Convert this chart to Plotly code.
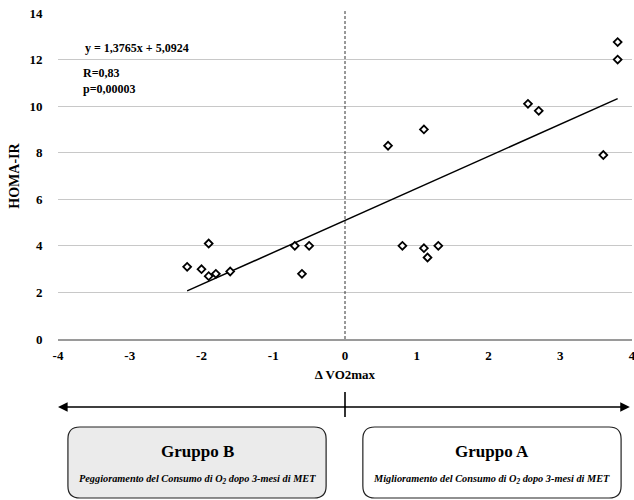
import plotly.graph_objects as go

# ---- data ----
delta_vo2 = [-2.2, -2.0, -1.9, -1.9, -1.8, -1.6, -0.7, -0.6, -0.5,
             0.6, 0.8, 1.1, 1.1, 1.15, 1.3, 2.55, 2.7, 3.6, 3.8, 3.8]
homa_ir = [3.1, 3.0, 4.1, 2.7, 2.8, 2.9, 4.0, 2.8, 4.0,
           8.3, 4.0, 9.0, 3.9, 3.5, 4.0, 10.1, 9.8, 7.9, 12.0, 12.75]
slope = 1.3765
intercept = 5.0924
x_ticks = [-4, -3, -2, -1, 0, 1, 2, 3, 4]
y_ticks = [0, 2, 4, 6, 8, 10, 12, 14]
eq_text = "y = 1,3765x + 5,0924"
stats_text = "R=0,83<br>p=0,00003"

FONT = "Liberation Serif, Times New Roman, serif"

trend_x = [min(delta_vo2), max(delta_vo2)]
trend_y = [slope * v + intercept for v in trend_x]

fig = go.Figure()
fig.add_trace(go.Scatter(x=trend_x, y=trend_y, mode="lines",
                         line=dict(color="black", width=1.5),
                         hoverinfo="skip", showlegend=False))
fig.add_trace(go.Scatter(x=delta_vo2, y=homa_ir, mode="markers",
                         marker=dict(symbol="diamond", size=6, color="white",
                                     line=dict(color="black", width=1.8)),
                         showlegend=False))

fig.update_layout(
    width=636, height=500,
    margin=dict(l=58, r=0, t=13, b=161),
    paper_bgcolor="white", plot_bgcolor="white",
    font=dict(family=FONT, color="black"),
    xaxis=dict(range=[-4, 4], tickvals=x_ticks, ticktext=[str(v) for v in x_ticks],
               showgrid=False, zeroline=False, showline=True,
               linecolor="#9a9a9a", linewidth=1.5,
               ticks="outside", ticklen=4, tickcolor="rgba(0,0,0,0)",
               ticklabeloverflow="allow",
               tickfont=dict(family=FONT, size=13, color="black", weight="bold"),
               title=dict(text="Δ VO2max", standoff=8,
                          font=dict(family=FONT, size=13, color="black", weight="bold"))),
    yaxis=dict(range=[0, 14], tickvals=y_ticks,
               showgrid=True, gridcolor="#c8c8c8", gridwidth=1,
               zeroline=False, showline=False,
               ticks="outside", ticklen=12, tickcolor="rgba(0,0,0,0)",
               ticklabeloverflow="allow",
               tickfont=dict(family=FONT, size=13, color="black", weight="bold"),
               title=dict(text="HOMA-IR", standoff=6,
                          font=dict(family=FONT, size=14, color="black", weight="bold"))),
)

# vertical dashed reference line at x=0
fig.add_shape(type="line", xref="x", yref="paper", x0=0, x1=0, y0=0, y1=1.006,
              line=dict(color="#333333", width=1, dash="3px,2px"))

# equation and statistics
fig.add_annotation(xref="paper", yref="paper", x=0.0433, y=0.8926, xanchor="left", yanchor="middle",
                   text=eq_text, showarrow=False,
                   font=dict(family=FONT, size=12, color="black", weight="bold"))
fig.add_annotation(xref="paper", yref="paper", x=0.0398, y=0.7914, xanchor="left", yanchor="middle",
                   text=stats_text, showarrow=False, align="left",
                   font=dict(family=FONT, size=12, color="black", weight="bold"))

# bottom double-headed arrow
arrow_y = -0.2086
for end, off in ((-4, 289), (3.97, -287)):
    fig.add_annotation(xref="x", yref="paper", x=end, y=arrow_y,
                       axref="pixel", ayref="pixel", ax=off, ay=0,
                       text="", showarrow=True, arrowhead=2, arrowsize=1.2,
                       arrowwidth=1.6, arrowcolor="black")
fig.add_shape(type="line", xref="x", yref="paper", x0=0, x1=0, y0=-0.1626, y1=-0.2393,
              line=dict(color="black", width=1.6))


def rounded_rect(x0, x1, y0, y1, rx, ry):
    return (f"M {x0+rx},{y1} L {x1-rx},{y1} Q {x1},{y1} {x1},{y1-ry} "
            f"L {x1},{y0+ry} Q {x1},{y0} {x1-rx},{y0} L {x0+rx},{y0} "
            f"Q {x0},{y0} {x0},{y0+ry} L {x0},{y1-ry} Q {x0},{y1} {x0+rx},{y1} Z")


rx, ry = 0.0208, 0.0368
box_top, box_bot = -0.270, -0.4877
boxes = [
    (0.0173, 0.4671, "#ebebeb", "Gruppo B", "Peggioramento del Consumo di O<sub>2</sub> dopo 3-mesi di MET"),
    (0.5311, 0.981, "white", "Gruppo A", "Miglioramento del Consumo di O<sub>2</sub> dopo 3-mesi di MET"),
]
for x0, x1, fill, title, sub in boxes:
    fig.add_shape(type="path", xref="paper", yref="paper",
                  path=rounded_rect(x0, x1, box_bot, box_top, rx, ry),
                  fillcolor=fill, line=dict(color="#222222", width=1.2))
    xc = (x0 + x1) / 2
    fig.add_annotation(xref="paper", yref="paper", x=xc, y=-0.3466,
                       xanchor="center", yanchor="middle",
                       text=title, showarrow=False,
                       font=dict(family=FONT, size=17, color="black", weight="bold"))
    fig.add_annotation(xref="paper", yref="paper", x=xc, y=-0.4325,
                       xanchor="center", yanchor="middle",
                       text=sub, showarrow=False,
                       font=dict(family=FONT, size=10.3, color="black", weight="bold", style="italic"))

fig.write_html("out.html", config={"displayModeBar": False},
               post_script="document.body.style.margin='0px';document.body.style.overflow='hidden';")
